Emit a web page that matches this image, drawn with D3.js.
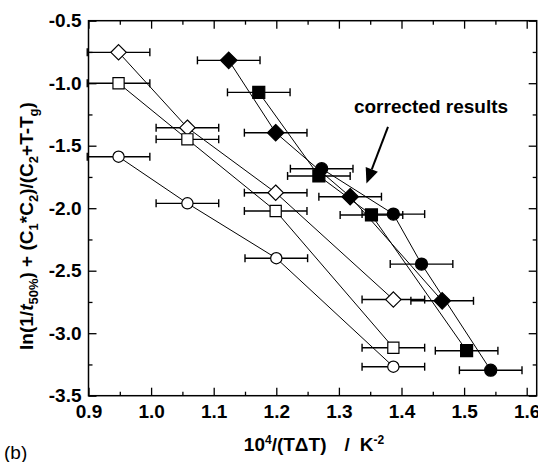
<!DOCTYPE html>
<html>
<head>
<meta charset="utf-8">
<script src="https://cdn.jsdelivr.net/npm/d3@7"></script>
<style>
  body { margin: 0; background: #fff; }
  text { font-family: Arial, "Liberation Sans", sans-serif; }
</style>
</head>
<body>
<script>
// values
const xErr = 0.05;

const openDiamondX = [0.948, 1.058, 1.199, 1.387];
const openDiamondY = [-0.753, -1.356, -1.876, -2.731];
const openSquareX = [0.948, 1.058, 1.199, 1.387];
const openSquareY = [-1.0, -1.449, -2.022, -3.116];
const openCircleX = [0.948, 1.058, 1.2, 1.387];
const openCircleY = [-1.588, -1.961, -2.40, -3.268];

const fullDiamondX = [1.124, 1.199, 1.318, 1.465];
const fullDiamondY = [-0.817, -1.396, -1.908, -2.741];
const fullSquareX = [1.172, 1.268, 1.352, 1.504];
const fullSquareY = [-1.073, -1.742, -2.054, -3.14];
const fullCircleX = [1.2725, 1.387, 1.432, 1.5425];
const fullCircleY = [-1.684, -2.047, -2.447, -3.296];

const xMajor = [0.9, 1.0, 1.1, 1.2, 1.3, 1.4, 1.5, 1.6];
const xMinor = [0.95, 1.05, 1.15, 1.25, 1.35, 1.45, 1.55];
const yMajor = [-0.5, -1.0, -1.5, -2.0, -2.5, -3.0, -3.5];
const yMinor = [-0.75, -1.25, -1.75, -2.25, -2.75, -3.25];

const width = 538, height = 462;
const margin = {top: 20.7, right: 1.3, bottom: 66.3, left: 88.5};
const w = width - margin.left - margin.right;
const h = height - margin.top - margin.bottom;

const svg = d3.select('body').append('svg')
  .attr('width', width)
  .attr('height', height);

const g = svg.append('g')
  .attr('transform', `translate(${margin.left},${margin.top})`);

const x = d3.scaleLinear().domain([0.9, 1.6 + 1.3 * 0.05 / 6.26 * 10 / 1.04]).range([0, w]);
x.domain([0.9, 0.9 + w / 626]);
const y = d3.scaleLinear().domain([-3.5, -0.5]).range([h, 0]);

// axes, ticks point inward on all four sides
function styleAxis(sel) {
  sel.select('.domain').remove();
  sel.selectAll('line').attr('stroke', '#000').attr('stroke-width', 1.3);
  sel.selectAll('text')
    .attr('fill', '#000')
    .style('font-size', '19px')
    .style('font-weight', 'bold')
    .style('font-family', 'Arial, "Liberation Sans", sans-serif');
}

g.append('g').attr('transform', `translate(0,${h})`)
  .call(d3.axisBottom(x).tickValues(xMajor).tickSize(-8).tickPadding(9).tickFormat(d3.format('.1f')))
  .call(styleAxis);
g.append('g').attr('transform', `translate(0,${h})`)
  .call(d3.axisBottom(x).tickValues(xMinor).tickSize(-4).tickFormat(''))
  .call(styleAxis);
g.append('g')
  .call(d3.axisTop(x).tickValues(xMajor).tickSize(-8).tickFormat(''))
  .call(styleAxis);
g.append('g')
  .call(d3.axisTop(x).tickValues(xMinor).tickSize(-4).tickFormat(''))
  .call(styleAxis);

g.append('g')
  .call(d3.axisLeft(y).tickValues(yMajor).tickSize(-8).tickPadding(7).tickFormat(d3.format('.1f')))
  .call(styleAxis);
g.append('g')
  .call(d3.axisLeft(y).tickValues(yMinor).tickSize(-4).tickFormat(''))
  .call(styleAxis);
g.append('g').attr('transform', `translate(${w},0)`)
  .call(d3.axisRight(y).tickValues(yMajor).tickSize(-8).tickFormat(''))
  .call(styleAxis);
g.append('g').attr('transform', `translate(${w},0)`)
  .call(d3.axisRight(y).tickValues(yMinor).tickSize(-4).tickFormat(''))
  .call(styleAxis);

// fix the minus sign to a plain hyphen like the original
g.selectAll('.tick text').text(function() { return d3.select(this).text().replace('\u2212', '-'); });

g.append('rect')
  .attr('width', w).attr('height', h)
  .attr('fill', 'none').attr('stroke', '#000').attr('stroke-width', 1.5);

// series
const series = [
  {xs: openDiamondX, ys: openDiamondY, shape: 'diamond', fill: '#fff'},
  {xs: openSquareX, ys: openSquareY, shape: 'square', fill: '#fff'},
  {xs: openCircleX, ys: openCircleY, shape: 'circle', fill: '#fff'},
  {xs: fullDiamondX, ys: fullDiamondY, shape: 'diamond', fill: '#000'},
  {xs: fullSquareX, ys: fullSquareY, shape: 'square', fill: '#000'},
  {xs: fullCircleX, ys: fullCircleY, shape: 'circle', fill: '#000'}
];
series.forEach(s => { s.pts = s.xs.map((v, i) => ({x: v, y: s.ys[i]})); });

const line = d3.line().x(d => x(d.x)).y(d => y(d.y));

g.selectAll('path.conn')
  .data(series).enter()
  .append('path')
  .attr('class', 'conn')
  .attr('d', d => line(d.pts))
  .attr('fill', 'none')
  .attr('stroke', '#000')
  .attr('stroke-width', 1);

const allPts = series.flatMap(s => s.pts.map(p => Object.assign({shape: s.shape, fill: s.fill}, p)));

const bars = g.selectAll('g.err')
  .data(allPts).enter()
  .append('g')
  .attr('class', 'err')
  .attr('stroke', '#000')
  .attr('stroke-width', 1.4);
bars.append('line')
  .attr('x1', d => x(d.x - xErr)).attr('x2', d => x(d.x + xErr))
  .attr('y1', d => y(d.y)).attr('y2', d => y(d.y));
bars.append('line')
  .attr('x1', d => x(d.x - xErr)).attr('x2', d => x(d.x - xErr))
  .attr('y1', d => y(d.y) - 4).attr('y2', d => y(d.y) + 4);
bars.append('line')
  .attr('x1', d => x(d.x + xErr)).attr('x2', d => x(d.x + xErr))
  .attr('y1', d => y(d.y) - 4).attr('y2', d => y(d.y) + 4);

const sizes = {diamond: 150, square: 125, circle: 100};
const types = {diamond: d3.symbolDiamond2, square: d3.symbolSquare, circle: d3.symbolCircle};

g.selectAll('path.mark')
  .data(allPts).enter()
  .append('path')
  .attr('class', 'mark')
  .attr('transform', d => `translate(${x(d.x)},${y(d.y)})`)
  .attr('d', d => d3.symbol().type(types[d.shape]).size(sizes[d.shape] * (d.fill === '#000' ? 1.15 : 1))())
  .attr('fill', d => d.fill)
  .attr('stroke', '#000')
  .attr('stroke-width', 1.2);

// annotation
const noteText = {x: 1.324, y: -1.238};
const arrowFrom = {x: 1.3784, y: -1.35};
const arrowTo = {x: 1.344, y: -1.802};

g.append('text')
  .attr('x', x(noteText.x)).attr('y', y(noteText.y))
  .style('font-size', '19px').style('font-weight', 'bold')
  .text('corrected results');

const ax0 = x(arrowFrom.x), ay0 = y(arrowFrom.y), ax1 = x(arrowTo.x), ay1 = y(arrowTo.y);
const len = Math.hypot(ax1 - ax0, ay1 - ay0);
const ux = (ax1 - ax0) / len, uy = (ay1 - ay0) / len;
const bx = ax1 - ux * 15, by = ay1 - uy * 15;
g.append('line')
  .attr('x1', ax0).attr('y1', ay0).attr('x2', bx).attr('y2', by)
  .attr('stroke', '#000').attr('stroke-width', 2);
g.append('path')
  .attr('d', `M${ax1},${ay1}L${bx - uy * 6.5},${by + ux * 6.5}L${bx + uy * 6.5},${by - ux * 6.5}Z`)
  .attr('fill', '#000');

// axis titles
const yLab = svg.append('text')
  .attr('transform', 'translate(33,226) rotate(-90)')
  .attr('text-anchor', 'middle')
  .style('font-size', '19px').style('font-weight', 'bold');
const subParts = [
  ['ln(1/', 0, false], ['t', 0, true], ['50%', 1, false], [') + (C', -1, false], ['1', 1, false],
  ['*C', -1, false], ['2', 1, false], [')/(C', -1, false], ['2', 1, false], ['+T-T', -1, false],
  ['g', 1, false], [')', -1, false]
];
subParts.forEach(p => {
  const t = yLab.append('tspan').text(p[0]);
  if (p[1] === 1) t.attr('dy', 5).style('font-size', '13px');
  if (p[1] === -1) t.attr('dy', -5);
  if (p[2]) t.style('font-style', 'italic');
});

const xLab = svg.append('text')
  .attr('x', 314).attr('y', 451)
  .attr('text-anchor', 'middle')
  .style('font-size', '19px').style('font-weight', 'bold');
xLab.append('tspan').text('10');
xLab.append('tspan').attr('dy', -7).style('font-size', '12px').text('4');
xLab.append('tspan').attr('dy', 7).text('/(T\u0394T)');
xLab.append('tspan').attr('dx', 18).text('/');
xLab.append('tspan').attr('dx', 10).text('K');
xLab.append('tspan').attr('dy', -7).style('font-size', '12px').text('-2');

svg.append('text')
  .attr('x', 4).attr('y', 459)
  .style('font-size', '19px')
  .text('(b)');
</script>
</body>
</html>
